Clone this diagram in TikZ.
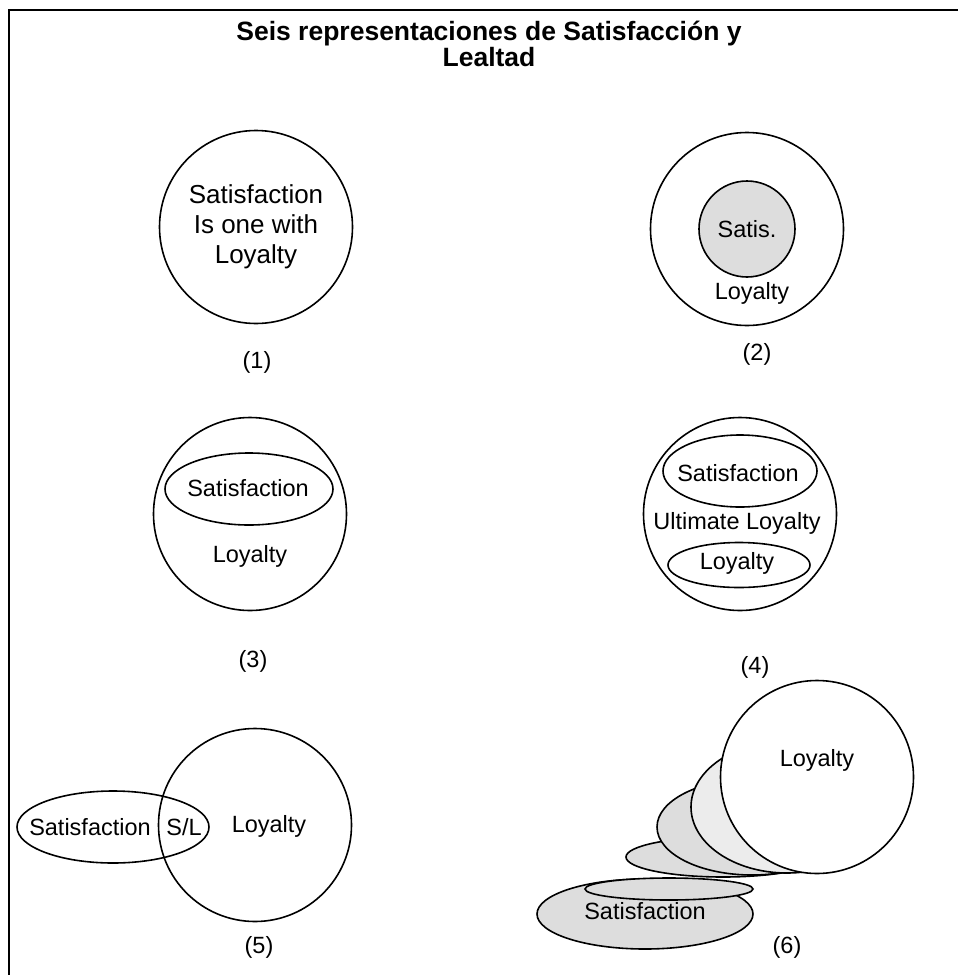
\documentclass[tikz,border=0pt]{standalone}
\usepackage{fontspec}
\setmainfont{Liberation Sans}
\usetikzlibrary{shapes.geometric}
\definecolor{shadeA}{HTML}{ECECEC}
\definecolor{shadeB}{HTML}{DDDDDD}
\tikzset{
  lbl/.style={font=\fontsize{23.5}{31}\selectfont, align=center, inner sep=0pt},
  biglbl/.style={font=\fontsize{26}{30}\selectfont, align=center, inner sep=0pt},
  ring/.style={draw, circle, line width=1.6pt, minimum size=#1, inner sep=0pt},
  ring/.default=193pt,
  oval/.style n args={2}{draw, ellipse, line width=1.6pt, minimum width=#1, minimum height=#2, inner sep=0pt},
  frameline/.style={line width=2.2pt},
}
\begin{document}
\begin{tikzpicture}[x=1pt,y=-1pt]
\useasboundingbox (0,0) rectangle (958,975);
% frame
\draw[frameline] (9,976) -- (9,10) -- (960,10);
% title
\node[font=\bfseries\fontsize{26.5}{25.5}\selectfont, align=center] (title) at (489,44) {Seis representaciones de Satisfacción y\\Lealtad};

% (1)
\node[ring] (c1) at (256,227) {};
\node[biglbl] (t1) at (c1) {Satisfaction\\Is one with\\Loyalty};
\node[lbl] (n1) at (257,362) {(1)};

% (2)
\node[ring] (c2) at (747,229) {};
\node[ring=96pt, fill=shadeB] (s2) at (747,229) {};
\node[lbl] (t2) at (s2) {Satis.};
\node[lbl] (l2) at (752,293) {Loyalty};
\node[lbl] (n2) at (757,354) {(2)};

% (3)
\node[ring] (c3) at (250,514) {};
\node[oval={168pt}{72pt}] (s3) at (249,489) {};
\node[lbl] (t3) at (248,488) {Satisfaction};
\node[lbl] (l3) at (250,556) {Loyalty};
\node[lbl] (n3) at (253,661) {(3)};

% (4)
\node[ring] (c4) at (740,514) {};
\node[oval={154pt}{72pt}] (s4) at (740,471) {};
\node[lbl] (t4) at (738,473) {Satisfaction};
\node[lbl] (u4) at (737,523) {Ultimate Loyalty};
\node[oval={142pt}{45pt}] (l4) at (739,565) {};
\node[lbl] (t4l) at (737,563) {Loyalty};
\node[lbl] (n4) at (755,667) {(4)};

% (5)
\node[oval={192pt}{72pt}] (s5) at (113,827) {};
\node[ring] (c5) at (255,825) {};
\node[lbl] (t5s) at (90,827) {Satisfaction};
\node[lbl] (t5sl) at (184,827) {S/L};
\node[lbl] (t5l) at (269,826) {Loyalty};
\node[lbl] (n5) at (259,947) {(5)};

% (6)
\node[oval={216pt}{70pt}, fill=shadeB] (s6) at (645,914) {};
\node[oval={168pt}{22pt}, fill=shadeB] (t6) at (669,889) {};
\node[lbl] (t6s) at (645,911) {Satisfaction};
\node[oval={194pt}{40pt}, fill=shadeB] (e6c) at (723,857) {};
\node[oval={190pt}{96pt}, fill=shadeB] (e6b) at (752,827) {};
\node[oval={192pt}{132pt}, fill=shadeA] (e6a) at (787,807) {};
\node[ring, fill=white] (c6) at (817,777) {};
\node[lbl] (l6) at (817,760) {Loyalty};
\node[lbl] (n6) at (787,947) {(6)};
\end{tikzpicture}
\end{document}
